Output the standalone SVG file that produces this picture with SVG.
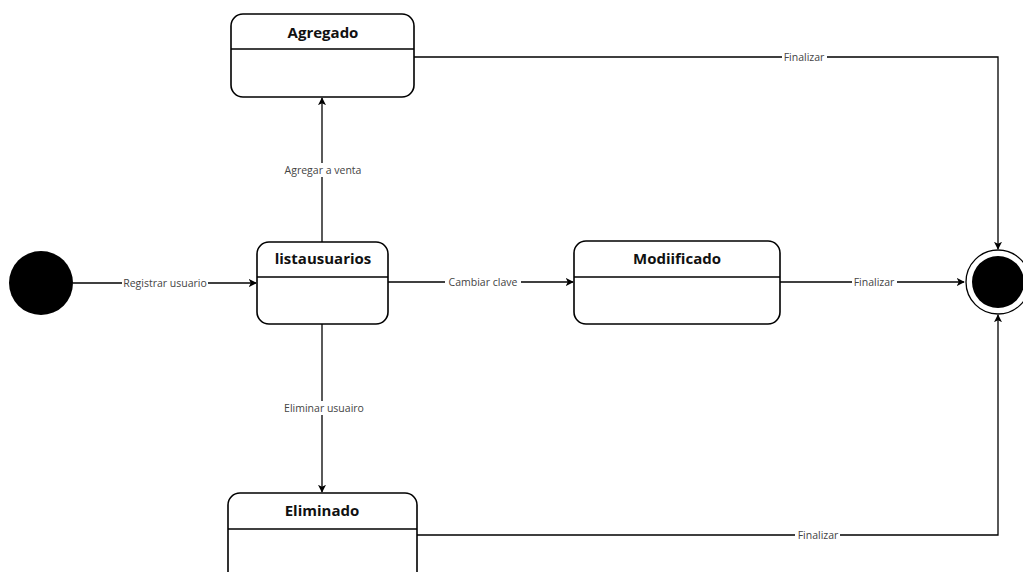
<svg xmlns="http://www.w3.org/2000/svg" width="1023" height="572" viewBox="0 0 1023 572">
<defs>
<marker id="arr" viewBox="0 0 10 10" refX="9" refY="5" markerWidth="8" markerHeight="8" markerUnits="userSpaceOnUse" orient="auto">
<path d="M0,0 L10,5 L0,10 L2.5,5 Z" fill="#000"/>
</marker>
<style>
.box{fill:#fff;stroke:#000;stroke-width:1.6}
.div{stroke:#000;stroke-width:1.4}
.title{font-family:"Open Sans","Liberation Sans",sans-serif;font-weight:bold;font-size:15px;fill:#111;text-anchor:middle}
.edge{fill:none;stroke:#000;stroke-width:1.3}
.lbl{font-family:"Open Sans","Liberation Sans",sans-serif;font-size:10.5px;fill:#444;text-anchor:middle;dominant-baseline:central}
.lblbg{fill:#fff}
</style>
</defs>
<rect width="1023" height="572" fill="#fff"/>
<g id="connectors">
<path class="edge" d="M73,283 H256" marker-end="url(#arr)"/>
<rect class="lblbg" x="122" y="277" width="86" height="12"/>
<text class="lbl" x="165" y="283">Registrar usuario</text>
<path class="edge" d="M322,242 V98" marker-end="url(#arr)"/>
<rect class="lblbg" x="282" y="163" width="82" height="14"/>
<text class="lbl" x="323" y="170">Agregar a venta</text>
<path class="edge" d="M322,324 V492" marker-end="url(#arr)"/>
<rect class="lblbg" x="281" y="401" width="86" height="14"/>
<text class="lbl" x="324" y="408">Eliminar usuairo</text>
<path class="edge" d="M388,282 H573" marker-end="url(#arr)"/>
<rect class="lblbg" x="445" y="276" width="76" height="12"/>
<text class="lbl" x="483" y="282">Cambiar clave</text>
<path class="edge" d="M780,282 H964" marker-end="url(#arr)"/>
<rect class="lblbg" x="852" y="276" width="45" height="12"/>
<text class="lbl" x="874" y="282">Finalizar</text>
<path class="edge" d="M414,57 H998 V249" marker-end="url(#arr)"/>
<rect class="lblbg" x="782" y="51" width="45" height="12"/>
<text class="lbl" x="804" y="57">Finalizar</text>
<path class="edge" d="M417,535 H998 V315" marker-end="url(#arr)"/>
<rect class="lblbg" x="795" y="529" width="45" height="12"/>
<text class="lbl" x="818" y="535">Finalizar</text>
</g>
<g id="initial">
<circle cx="41" cy="283" r="32" fill="#000"/>
</g>
<g id="final">
<circle cx="998" cy="282" r="32" fill="#fff" stroke="#000" stroke-width="1.3"/>
<circle cx="998" cy="282" r="26" fill="#000"/>
</g>
<g id="agregado">
<rect class="box" x="231" y="14" width="183" height="83" rx="12"/>
<line class="div" x1="231" y1="49" x2="414" y2="49"/>
<text class="title" x="323" y="38">Agregado</text>
</g>
<g id="listausuarios">
<rect class="box" x="257" y="242" width="131" height="82" rx="12"/>
<line class="div" x1="257" y1="277" x2="388" y2="277"/>
<text class="title" x="323" y="264">listausuarios</text>
</g>
<g id="modificado">
<rect class="box" x="574" y="241" width="206" height="83" rx="12"/>
<line class="div" x1="574" y1="277" x2="780" y2="277"/>
<text class="title" x="677" y="264">Modiificado</text>
</g>
<g id="eliminado">
<rect class="box" x="228" y="493" width="189" height="100" rx="12"/>
<line class="div" x1="228" y1="529" x2="417" y2="529"/>
<text class="title" x="322" y="516">Eliminado</text>
</g>
</svg>
